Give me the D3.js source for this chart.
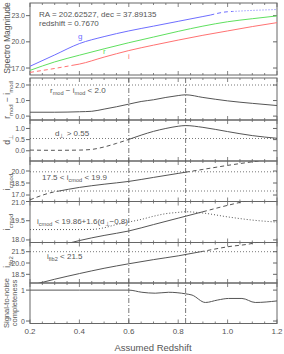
<!DOCTYPE html>
<html><head><meta charset="utf-8">
<script src="https://cdn.jsdelivr.net/npm/d3@7"></script>
<style>
body{margin:0;background:#fff}
svg{display:block}
text{font-family:"Liberation Sans",Arial,sans-serif;fill:#555}
</style>
</head><body><svg id="c" width="284" height="354"></svg>
<script>
// ---------- data ----------
const zTicks = [0.2, 0.4, 0.6, 0.8, 1.0, 1.2];
const zTickLabels = ["0.2", "0.4", "0.6", "0.8", "1.0", "1.2"];
const zGrid = [0.2, 0.3, 0.4, 0.5, 0.6, 0.7, 0.8, 0.9, 1.0, 1.1, 1.2];

const gMag = [17.2, 18.5, 19.8, 20.6, 21.25, 21.8, 22.35, 22.9, 23.45, 23.6, 23.7];
const rMag = [16.73, 17.7, 18.47, 19.2, 19.9, 20.55, 21.2, 21.8, 22.3, 22.65, 22.97];
const iMag = [16.5, 16.95, 17.45, 18.25, 19.0, 19.62, 20.2, 20.75, 21.25, 21.75, 22.2];

const zColor = [0.2, 0.3, 0.4, 0.45, 0.5, 0.55, 0.6, 0.65, 0.7, 0.75, 0.8, 0.83, 0.9, 1.0, 1.1, 1.2];
const rMinusI = [0.25, 0.25, 0.28, 0.31, 0.45, 0.6, 0.77, 0.94, 1.05, 1.2, 1.32, 1.37, 1.2, 0.98, 0.82, 0.68];
const dPerp  = [0.03, 0.02, 0.03, 0.06, 0.17, 0.33, 0.51, 0.7, 0.87, 1.0, 1.1, 1.13, 1.05, 0.86, 0.68, 0.56];
const dCut   = [18.81, 18.81, 18.81, 18.82, 18.95, 19.2, 19.4, 19.6, 19.85, 20.05, 20.15, 20.2, 20.1, 19.8, 19.55, 19.39];

const iCmod = [16.4, 17.4, 17.95, 18.35, 18.7, 19.2, 19.7, 20.2, 20.7, 21.15, 21.6];
const iFib2 = [17.0, 17.85, 18.6, 19.3, 19.9, 20.45, 20.95, 21.55, 22.15, 22.6, 23.6];

const zSN = [0.2, 0.4, 0.6, 0.653, 0.707, 0.761, 0.83, 0.856, 0.91, 0.96, 1.004, 1.058, 1.112, 1.2];
const snComp = [1.0, 1.0, 1.0, 0.93, 0.9, 0.93, 0.88, 0.84, 0.6, 0.68, 0.73, 0.73, 0.6, 0.65];

const cutLines = [0.6, 0.83];

// ---------- layout ----------
const svg = d3.select("#c");
const x = d3.scaleLinear().domain([0.2, 1.2]).range([30, 277]);
const panels = [
  {y0: 3,     y1: 75,    dom: [16.2, 24.45], ticks: [23, 20, 17], fmt: ".1f", nudge: [0, 0, 0]},
  {y0: 78,    y1: 120,   dom: [-0.25, 2.45], ticks: [2, 1, 0], fmt: ".1f", nudge: [0, 0, 0]},
  {y0: 120,   y1: 161,   dom: [-0.46, 1.38], ticks: [1, 0.5, 0], fmt: ".1f", nudge: [0, 0, 0]},
  {y0: 161,   y1: 201.5, dom: [16.19, 21.25], ticks: [20, 18.5, 17], fmt: ".1f", nudge: [0, 0, -0.8]},
  {y0: 201.5, y1: 242.5, dom: [17.8, 21.0], ticks: [21, 19.5, 18], fmt: ".1f", nudge: [0.8, 0, 0]},
  {y0: 242.5, y1: 283,   dom: [17.35, 22.72], ticks: [21.5, 20, 18.5], fmt: ".1f", nudge: [0, 0, 0]},
  {y0: 283,   y1: 323.5, dom: [-0.08, 1.23], ticks: [1, 0], fmt: "d", nudge: [0, 0]}
];
panels.forEach(p => p.y = d3.scaleLinear().domain(p.dom).range([p.y1, p.y0]));

const frameCol = "#666", lineCol = "#555";
const defs = svg.append("defs");
panels.forEach((p, i) => {
  defs.append("clipPath").attr("id", "clip" + i)
    .append("rect").attr("x", x.range()[0]).attr("y", p.y0)
    .attr("width", x.range()[1] - x.range()[0]).attr("height", p.y1 - p.y0);
});

function interp(zs, vs, z) {
  for (let k = 0; k < zs.length - 1; k++) {
    if (z >= zs[k] && z <= zs[k + 1]) {
      const t = (z - zs[k]) / (zs[k + 1] - zs[k]);
      return vs[k] + t * (vs[k + 1] - vs[k]);
    }
  }
  return vs[vs.length - 1];
}
// split a series at z breakpoints, each piece has its own dash style
function pieces(zs, vs, breaks, styles) {
  const edges = [zs[0], ...breaks, zs[zs.length - 1]];
  const out = [];
  for (let k = 0; k < edges.length - 1; k++) {
    const a = edges[k], b = edges[k + 1];
    const pts = [[a, interp(zs, vs, a)]];
    zs.forEach((z, j) => { if (z > a + 1e-6 && z < b - 1e-6) pts.push([z, vs[j]]); });
    pts.push([b, interp(zs, vs, b)]);
    out.push({pts, style: styles[k]});
  }
  return out;
}
const dashes = {solid: null, dashed: "4,3", dotted: "1,2", dashdot: "5,2,1,2"};
function drawSeries(pi, zs, vs, breaks, styles, color, width) {
  const p = panels[pi];
  const line = d3.line().x(d => x(d[0])).y(d => p.y(d[1])).curve(d3.curveMonotoneX);
  const g = svg.append("g").attr("clip-path", `url(#clip${pi})`);
  pieces(zs, vs, breaks, styles).forEach(pc => {
    g.append("path").attr("d", line(pc.pts)).attr("fill", "none")
      .attr("stroke", color).attr("stroke-width", width || 1)
      .attr("stroke-dasharray", dashes[pc.style]);
  });
}
function hline(pi, v, style) {
  const p = panels[pi];
  svg.append("line").attr("x1", x.range()[0]).attr("x2", x.range()[1])
    .attr("y1", p.y(v)).attr("y2", p.y(v))
    .attr("stroke", lineCol).attr("stroke-width", 0.8).attr("stroke-dasharray", dashes[style]);
}

// ---------- frames, ticks ----------
panels.forEach((p, i) => {
  svg.append("rect").attr("x", x.range()[0]).attr("y", p.y0)
    .attr("width", x.range()[1] - x.range()[0]).attr("height", p.y1 - p.y0)
    .attr("fill", "none").attr("stroke", frameCol).attr("stroke-width", 1);
  p.ticks.forEach((t, k) => {
    const yy = p.y(t);
    svg.append("line").attr("x1", 26).attr("x2", 30).attr("y1", yy).attr("y2", yy)
      .attr("stroke", frameCol);
    svg.append("line").attr("x1", x.range()[1] - 4).attr("x2", x.range()[1]).attr("y1", yy).attr("y2", yy)
      .attr("stroke", frameCol);
    svg.append("text").attr("x", 25).attr("y", yy + 2.5 + p.nudge[k]).attr("text-anchor", "end")
      .attr("font-size", 7).text(d3.format(p.fmt)(t));
  });
  d3.range(0.2, 1.2001, 0.05).forEach(z => {
    const major = Math.abs(Math.round(z * 5) - z * 5) < 1e-6;
    const len = major ? 4 : 2;
    svg.append("line").attr("x1", x(z)).attr("x2", x(z)).attr("y1", p.y0).attr("y2", p.y0 + len).attr("stroke", frameCol).attr("stroke-width", 0.8);
    svg.append("line").attr("x1", x(z)).attr("x2", x(z)).attr("y1", p.y1).attr("y2", p.y1 - len).attr("stroke", frameCol).attr("stroke-width", 0.8);
  });
});

zTicks.forEach((z, k) => {
  svg.append("text").attr("x", x(z)).attr("y", 334).attr("text-anchor", "middle")
    .attr("font-size", 8).text(zTickLabels[k]);
});
svg.append("text").attr("x", 153).attr("y", 351).attr("text-anchor", "middle")
  .attr("font-size", 9.5).text("Assumed Redshift");

// ---------- panel 1 ----------
drawSeries(0, zGrid, gMag, [0.93, 1.02], ["solid", "dashed", "dotted"], "#6e6eff");
drawSeries(0, zGrid, rMag, [], ["solid"], "#5fe05f");
drawSeries(0, zGrid, iMag, [0.37], ["dashed", "solid"], "#ff7272");
svg.append("text").attr("x", 39).attr("y", 16.5).attr("font-size", 8).text("RA = 202.62527, dec = 37.89135");
svg.append("text").attr("x", 39).attr("y", 25.5).attr("font-size", 8).text("redshift = 0.7670");
svg.append("text").attr("x", 78).attr("y", 39).attr("font-size", 8).style("fill", "#6e6eff").text("g");
svg.append("text").attr("x", 103).attr("y", 54).attr("font-size", 8).style("fill", "#5fe05f").text("r");
svg.append("text").attr("x", 128).attr("y", 59).attr("font-size", 8).style("fill", "#ff7272").text("i");

// ---------- panel 2 ----------
hline(1, 2.0, "dotted");
drawSeries(1, zColor, rMinusI, [], ["solid"], lineCol);
// ---------- panel 3 ----------
hline(2, 0.55, "dotted");
drawSeries(2, zColor, dPerp, [0.605], ["dashed", "solid"], lineCol);
// ---------- panel 4 ----------
hline(3, 17.5, "dotted");
hline(3, 19.9, "dotted");
drawSeries(3, zGrid, iCmod, [0.31, 0.83], ["dashed", "solid", "dashed"], lineCol);
// ---------- panel 5 ----------
drawSeries(4, zColor, dCut, [], ["dotted"], lineCol);
drawSeries(4, zGrid, iCmod, [0.9], ["solid", "dashed"], lineCol);
// ---------- panel 6 ----------
hline(5, 21.5, "dotted");
drawSeries(5, zGrid, iFib2, [0.89], ["solid", "dashed"], lineCol);
// ---------- panel 7 ----------
drawSeries(6, zSN, snComp, [], ["solid"], lineCol);

cutLines.forEach(z => {
  svg.append("line").attr("x1", x(z)).attr("x2", x(z)).attr("y1", panels[1].y0).attr("y2", panels[6].y1)
    .attr("stroke", lineCol).attr("stroke-width", 0.8).attr("stroke-dasharray", dashes.dashdot);
});

// ---------- annotations with subscripts ----------
function rich(g, parts, size) {
  let prevSub = false;
  parts.forEach(([t, sub]) => {
    const ts = g.append("tspan").text(t);
    if (sub) ts.attr("font-size", size * 0.7).attr("dy", prevSub ? 0 : size * 0.3);
    else ts.attr("dy", prevSub ? -size * 0.3 : 0);
    prevSub = !!sub;
  });
}
function label(xx, yy, parts, size, rotate) {
  const t = svg.append("text").attr("font-size", size);
  if (rotate) t.attr("transform", `translate(${xx},${yy}) rotate(-90)`).attr("text-anchor", "middle");
  else t.attr("x", xx).attr("y", yy);
  rich(t, parts, size);
  return t;
}
label(50, 93, [["r"], ["mod", 1], [" − i"], ["mod", 1], [" < 2.0"]], 8);
label(55, 136, [["d"], ["⊥", 1], [" > 0.55"]], 8);
label(42, 180, [["17.5 < i"], ["cmod", 1], [" < 19.9"]], 8);
label(37, 223.5, [["i"], ["cmod", 1], [" < 19.86+1.6(d"], ["⊥", 1], ["−0.8)"]], 8);
label(47, 259, [["i"], ["fib2", 1], [" < 21.5"]], 8);

label(10, 38, [["Spectro Magnitude"]], 8.5, true);
label(10, 100, [["r"], ["mod", 1], [" − i"], ["mod", 1]], 8.5, true);
label(10, 140, [["d"], ["⊥", 1]], 8.5, true);
label(10, 182, [["i"], ["cmod", 1]], 8.5, true);
label(10, 222, [["i"], ["cmod", 1]], 8.5, true);
label(10, 262, [["i"], ["fib2", 1]], 8.5, true);
label(9, 303, [["Signal-to-noise"]], 7.5, true);
label(17, 303, [["completeness"]], 7.5, true);
</script>
</body></html>
